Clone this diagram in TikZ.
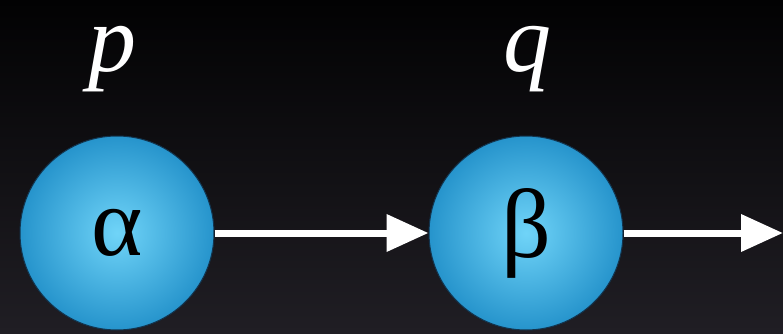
\documentclass[tikz,border=0pt]{standalone}
\usepackage{fontspec}
\setmainfont{Liberation Serif}
\usepackage{tikz}
\usetikzlibrary{arrows.meta,positioning,backgrounds}
\definecolor{bgtop}{RGB}{2,2,3}
\definecolor{bgbot}{RGB}{32,30,36}
\definecolor{ballin}{RGB}{112,212,248}
\definecolor{ballout}{RGB}{38,148,204}
\definecolor{ballrim}{RGB}{18,52,78}

\begin{document}
\begin{tikzpicture}[x=1pt, y=1pt,
  ball/.style={circle, minimum size=194pt, inner sep=0pt, draw=ballrim, line width=1pt,
               inner color=ballin, outer color=ballout,
               font=\fontsize{98}{98}\selectfont},
  var/.style={inner sep=0pt, text=white, font=\fontsize{96}{96}\selectfont\itshape},
  arr/.style={-{Triangle[length=42pt, width=36pt]}, line width=7pt, white},
  node distance=214pt
]
\shade[top color=bgtop, bottom color=bgbot] (0,0) rectangle (783,333);
\useasboundingbox (0,0) rectangle (783,333);

\node[ball] (alpha) at (117,100) {α};
\node[ball, right=of alpha] (beta) {β};
\node[var, above=43pt of alpha, xshift=-5pt] (p) {p};
\node[var, above=43pt of beta, xshift=1pt] (q) {q};
\coordinate (out) at (783,100);

\draw[arr] (alpha) -- (beta);
\draw[arr] (beta) -- (out);
\end{tikzpicture}
\end{document}
